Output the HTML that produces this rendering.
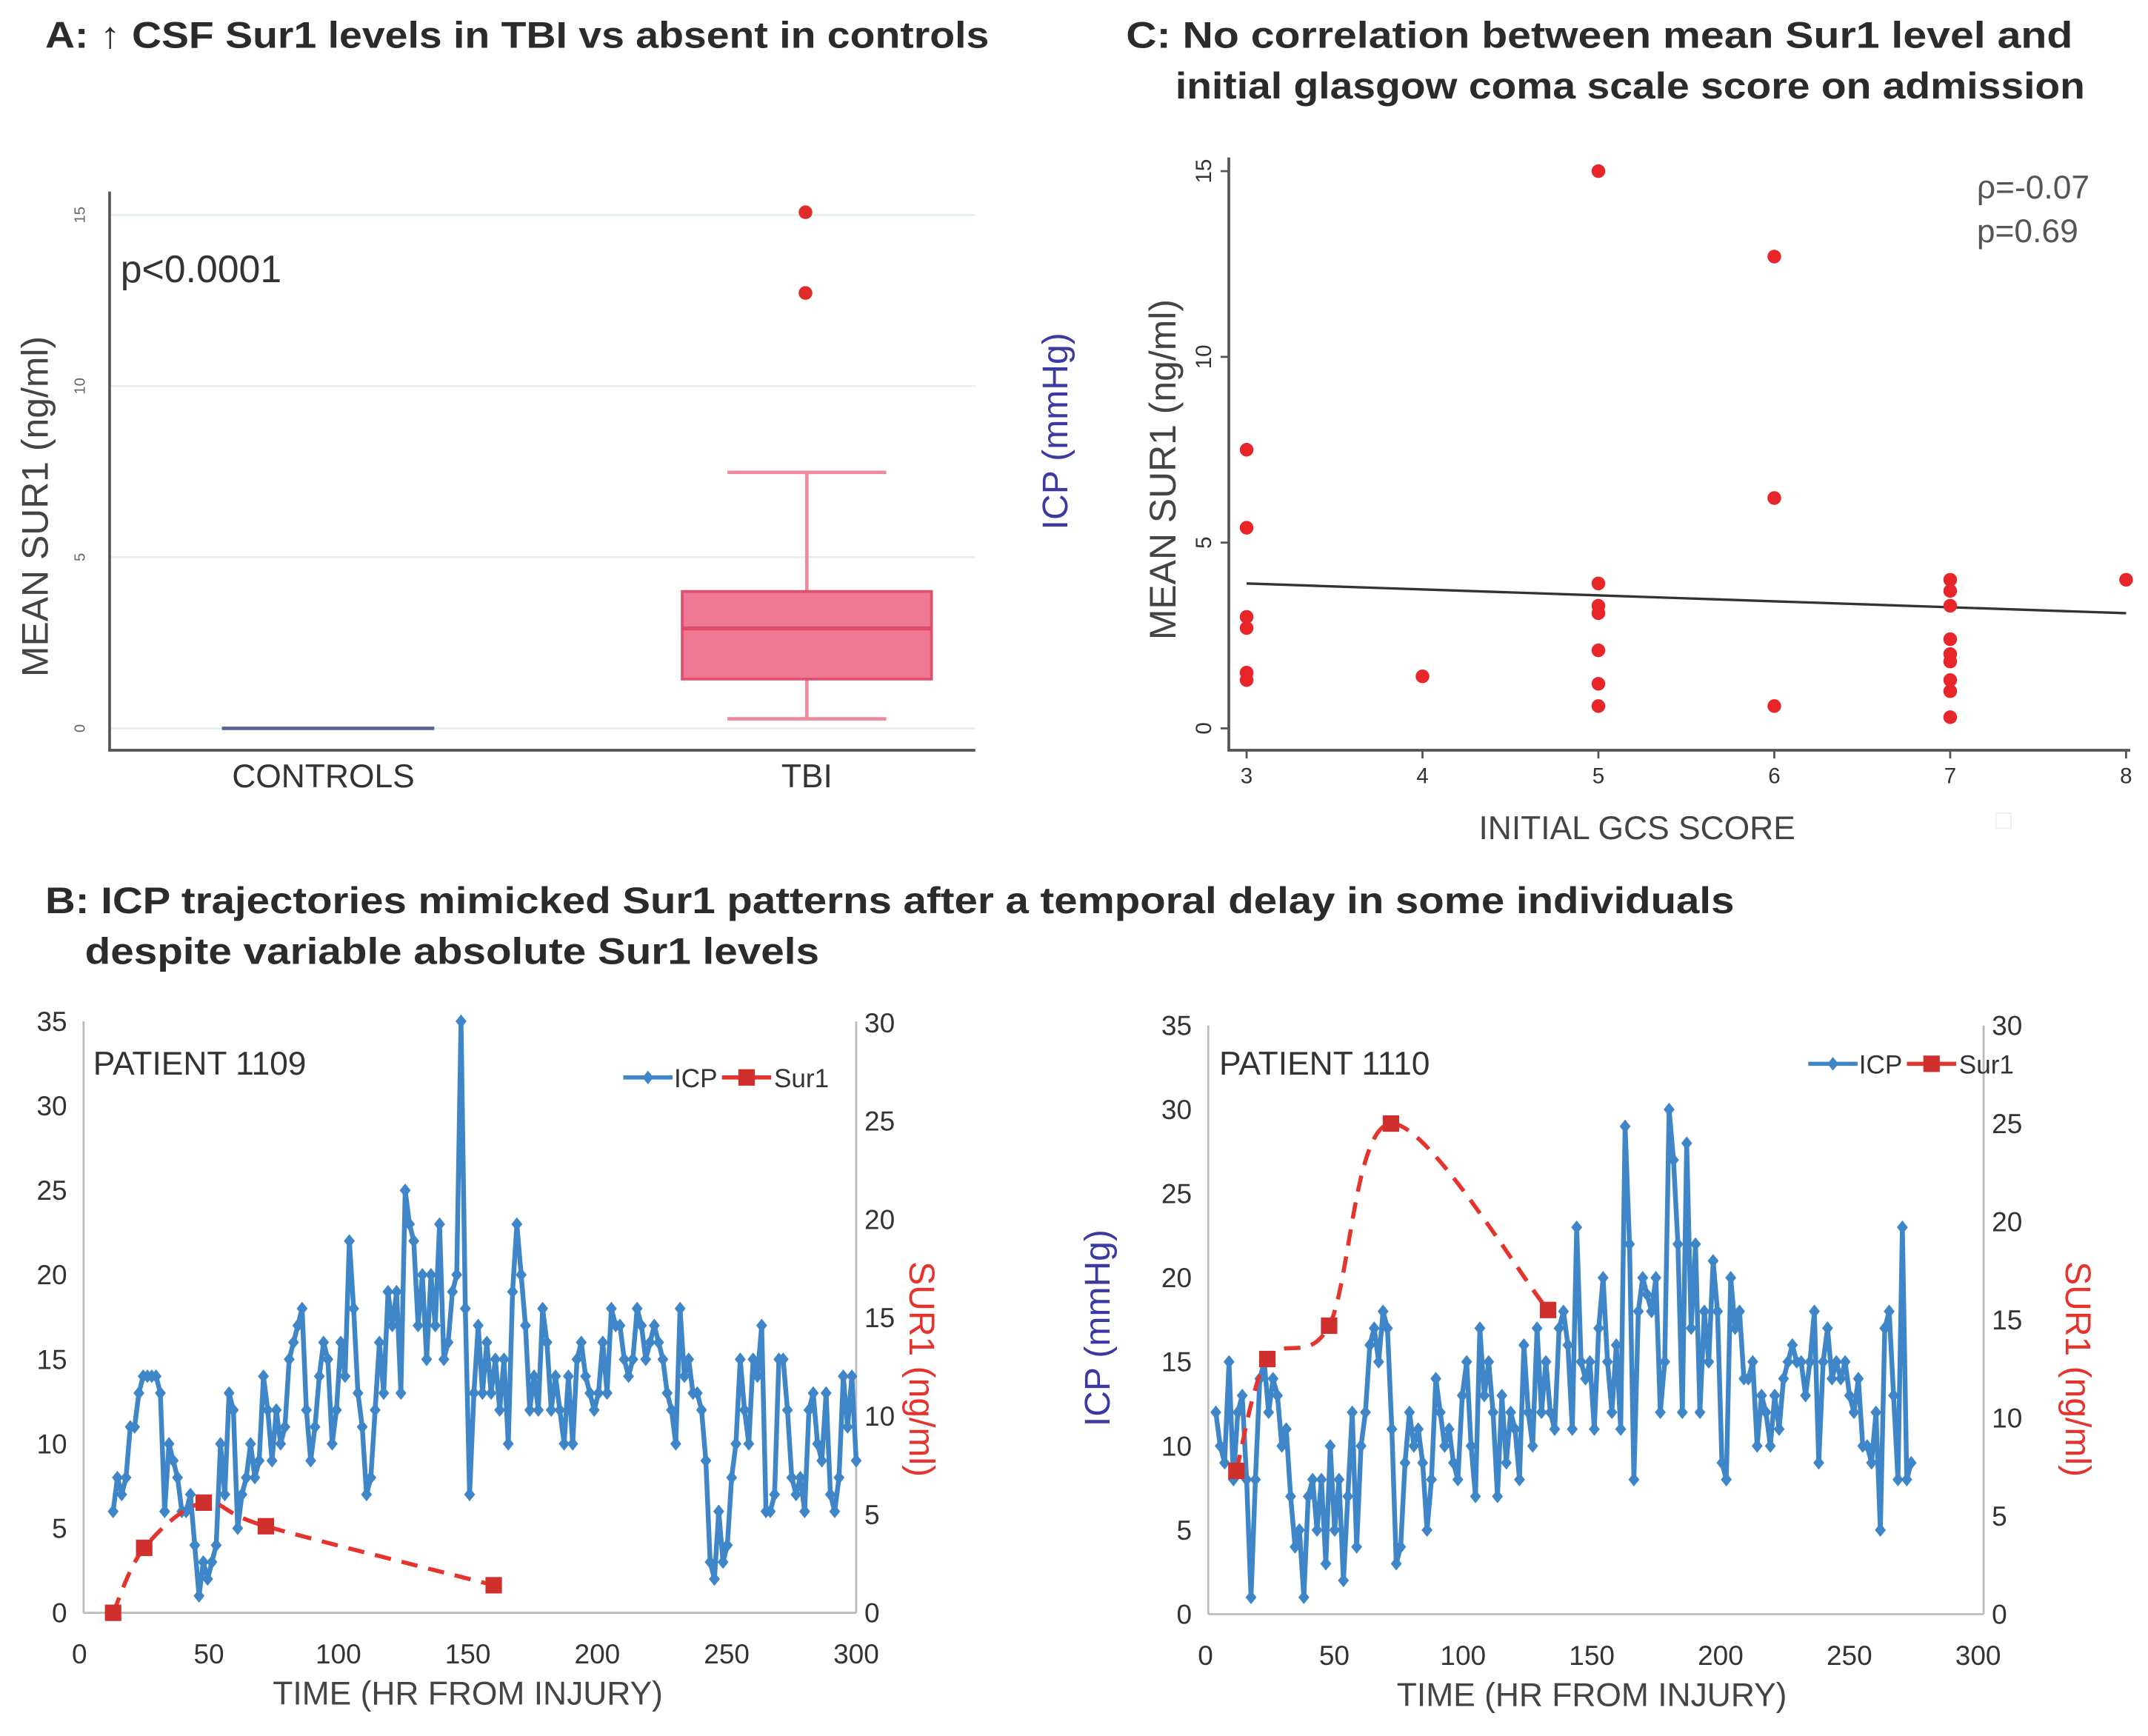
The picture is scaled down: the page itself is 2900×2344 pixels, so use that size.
<!DOCTYPE html>
<html><head><meta charset="utf-8"><style>
html,body{margin:0;padding:0;background:#fff}
svg{display:block}
text{font-family:"Liberation Sans",sans-serif}
.t{font-weight:bold;font-size:27px;fill:#2b2b2b}
</style></head><body>
<svg id="fig" width="2900" height="2344" viewBox="0 0 1568 1268" preserveAspectRatio="none" xmlns="http://www.w3.org/2000/svg">
<rect width="1568" height="1268" fill="#fff"/>
<text class="t" x="33" y="35" textLength="689" lengthAdjust="spacingAndGlyphs">A: ↑ CSF Sur1 levels in TBI vs absent in controls</text>
<text class="t" x="822" y="35" textLength="691" lengthAdjust="spacingAndGlyphs">C: No correlation between mean Sur1 level and</text>
<text class="t" x="858" y="72" textLength="664" lengthAdjust="spacingAndGlyphs">initial glasgow coma scale score on admission</text>
<text class="t" x="33" y="667" textLength="1233" lengthAdjust="spacingAndGlyphs">B: ICP trajectories mimicked Sur1 patterns after a temporal delay in some individuals</text>
<text class="t" x="62" y="704" textLength="536" lengthAdjust="spacingAndGlyphs">despite variable absolute Sur1 levels</text>
<g id="A"></g><g id="C"></g><g id="B1"></g><g id="B2"></g>
</svg>
<script>
// Panel A data
const boxCategories=["CONTROLS","TBI"];
const tbiBox=[0.28,1.44,2.92,4.0,7.48]; // low whisker, q1, median, q3, high whisker
const tbiOutliers=[15.08,12.72];
const controlsValue=[0];
const aTicks=[0,5,10,15];
// Panel C data
const gcsX=[3,3,3,3,3,3,4,5,5,5,5,5,5,5,6,6,6,7,7,7,7,7,7,7,7,7,8];
const meanSur1=[7.5,5.4,3.0,2.7,1.5,1.3,1.4,15.0,3.9,3.3,3.1,2.1,1.2,0.6,12.7,6.2,0.6,4.0,3.7,3.3,2.4,2.0,1.8,1.3,1.0,0.3,4.0];
const fitLine=[3.9,3.1]; // fit value at gcs 3 and 8
const cXTicks=[3,4,5,6,7,8];
const cYTicks=[0,5,10,15];
// Panel B data
const icp1109=[6,8,7,8,11,11,13,14,14,14,14,13,6,10,9,8,6,6,7,4,1,3,2,3,4,10,7,13,12,5,7,8,10,8,9,14,12,9,12,10,11,15,16,17,18,12,9,11,14,16,15,10,12,16,14,22,18,13,11,7,8,12,16,13,19,17,19,13,25,23,22,17,20,15,20,17,23,15,16,19,20,35,18,7,13,17,13,16,13,15,12,15,10,19,23,20,17,12,14,12,18,16,12,14,12,10,14,10,15,16,14,13,12,13,16,13,18,17,17,15,14,15,18,17,15,16,17,16,15,13,12,10,18,14,15,13,13,12,9,3,2,6,3,4,8,10,15,12,10,15,14,17,6,6,7,15,15,12,8,7,8,6,12,13,10,9,13,7,6,8,14,11,14,9];
const icp1109Start=13, icp1109End=300;
const sur1109T=[13,25,48,72,160];
const sur1109V=[0,3.3,5.6,4.4,1.4];
const icp1110=[12,10,9,15,8,12,13,8,1,8,14,15,12,14,13,10,11,7,4,5,1,7,8,5,8,3,10,5,8,2,7,12,4,10,12,16,17,15,18,17,11,3,4,9,12,10,11,9,5,8,14,12,10,11,9,8,13,15,10,7,17,13,15,12,7,13,9,12,11,8,16,12,10,17,12,15,12,11,17,18,16,11,23,15,14,15,11,17,20,15,12,16,11,29,22,8,18,20,19,18,20,12,15,30,27,22,12,28,17,22,12,18,15,21,18,9,8,20,17,18,14,14,15,10,13,12,10,13,11,14,15,16,15,15,13,15,18,9,15,17,14,15,14,15,13,12,14,10,10,9,12,5,17,18,13,8,23,8,9];
const icp1110Start=4, icp1110End=274;
const sur1110T=[12,24,48,72,133];
const sur1110V=[7.3,13,14.7,25,15.5];
const bXTicks=[0,50,100,150,200,250,300];
const bLeftTicks=[0,5,10,15,20,25,30,35];
const bRightTicks=[0,5,10,15,20,25,30];

const NS="http://www.w3.org/2000/svg";
function mk(parent,tag,attrs,txt){const e=document.createElementNS(NS,tag);for(const k in attrs)e.setAttribute(k,attrs[k]);if(txt!==undefined)e.textContent=txt;parent.appendChild(e);return e;}

// ---------- Panel A ----------
(function(){
const g=document.getElementById('A');
const y=v=>532-v*(375/15);
const x0=80,x1=712;
aTicks.forEach(t=>{
 const l=mk(g,'line',{x1:x0,x2:x1,y1:y(t),y2:y(t),stroke:'#e6efef','stroke-width':1.5});
 
 
 const tx=mk(g,'text',{x:62,y:y(t),'font-size':11,fill:'#666','text-anchor':'middle',transform:`rotate(-90 62 ${y(t)})`},String(t));
 
 
});
let e=mk(g,'polyline',{points:`${x0},140 ${x0},548 ${x1},548`,fill:'none',stroke:'#555','stroke-width':2});

const cx=[236,589];
e=mk(g,'line',{x1:162,x2:317,y1:y(controlsValue[0]),y2:y(controlsValue[0]),stroke:'#5a5f9a','stroke-width':2.5});

const [lo,q1,md,q3,hi]=tbiBox;const bx=cx[1],hw=91;
e=mk(g,'line',{x1:bx,x2:bx,y1:y(hi),y2:y(q3),stroke:'#ee8a9c','stroke-width':2.5});
e=mk(g,'line',{x1:bx,x2:bx,y1:y(q1),y2:y(lo),stroke:'#ee8a9c','stroke-width':2.5});
e=mk(g,'line',{x1:bx-58,x2:bx+58,y1:y(hi),y2:y(hi),stroke:'#ee8a9c','stroke-width':2.5});
e=mk(g,'line',{x1:bx-58,x2:bx+58,y1:y(lo),y2:y(lo),stroke:'#ee8a9c','stroke-width':2.5});
e=mk(g,'rect',{x:bx-hw,y:y(q3),width:hw*2,height:y(q1)-y(q3),fill:'#ef7895',stroke:'#e0506c','stroke-width':2});
e=mk(g,'line',{x1:bx-hw,x2:bx+hw,y1:y(md),y2:y(md),stroke:'#dc4c66','stroke-width':3});
tbiOutliers.forEach(v=>{e=mk(g,'circle',{cx:bx-1,cy:y(v),r:5,fill:'#e02b2b'});});
boxCategories.forEach((c,i)=>{e=mk(g,'text',{x:cx[i],y:575,'font-size':24,fill:'#333','text-anchor':'middle'},c);});
e=mk(g,'text',{x:88,y:206,'font-size':28,fill:'#333'},'p<0.0001');
e=mk(g,'text',{x:0,y:0,'font-size':27,fill:'#444','text-anchor':'middle',transform:'translate(35 370) rotate(-90)'},'MEAN SUR1 (ng/ml)');
})();

// ---------- Panel C ----------
(function(){
const g=document.getElementById('C');
const x=v=>910+(v-3)*(642/5);
const y=v=>532-v*(407/15);
let e=mk(g,'polyline',{points:`897,115 897,548 1555,548`,fill:'none',stroke:'#555','stroke-width':2});

cYTicks.forEach(t=>{
 e=mk(g,'line',{x1:891,x2:897,y1:y(t),y2:y(t),stroke:'#555','stroke-width':1.5});
 e=mk(g,'text',{x:0,y:0,'font-size':16,fill:'#333','text-anchor':'middle',transform:`translate(884 ${y(t)}) rotate(-90)`},String(t));
});
cXTicks.forEach(t=>{
 e=mk(g,'line',{x1:x(t),x2:x(t),y1:548,y2:554,stroke:'#555','stroke-width':1.5});
 e=mk(g,'text',{x:x(t),y:572,'font-size':16,fill:'#333','text-anchor':'middle'},String(t));
});
e=mk(g,'line',{x1:x(3),x2:x(8),y1:y(fitLine[0]),y2:y(fitLine[1]),stroke:'#333','stroke-width':1.8});
gcsX.forEach((gx,i)=>{e=mk(g,'circle',{cx:x(gx),cy:y(meanSur1[i]),r:5,fill:'#e8262a'});});
e=mk(g,'text',{x:1195,y:613,'font-size':24,fill:'#444','text-anchor':'middle'},'INITIAL GCS SCORE');
e=mk(g,'text',{x:0,y:0,'font-size':27,fill:'#444','text-anchor':'middle',transform:'translate(858 343) rotate(-90)'},'MEAN SUR1 (ng/ml)');
e=mk(g,'text',{x:0,y:0,'font-size':26,fill:'#3a3aa0','text-anchor':'middle',transform:'translate(779 315) rotate(-90)'},'ICP (mmHg)');
e=mk(g,'text',{x:1443,y:145,'font-size':24,fill:'#555'},'ρ=-0.07');
e=mk(g,'text',{x:1443,y:177,'font-size':24,fill:'#555'},'p=0.69');
e=mk(g,'rect',{x:1457,y:594,width:11,height:11,fill:'none',stroke:'#eee'});
})();

// ---------- Panel B ----------
function smoothPath(pts){
 let d=`M${pts[0][0]},${pts[0][1]}`;
 for(let i=0;i<pts.length-1;i++){
  const p0=pts[i-1]||pts[i],p1=pts[i],p2=pts[i+1],p3=pts[i+2]||p2;
  const c1=[p1[0]+(p2[0]-p0[0])/6,p1[1]+(p2[1]-p0[1])/6],c2=[p2[0]-(p3[0]-p1[0])/6,p2[1]-(p3[1]-p1[1])/6];
  d+=` C${c1[0]},${c1[1]} ${c2[0]},${c2[1]} ${p2[0]},${p2[1]}`;
 }
 return d;
}
function drawB(id,o){
 const g=document.getElementById(id);
 const x=v=>o.x0+v*(o.x300-o.x0)/300;
 const yl=v=>o.y0+v*(o.y35-o.y0)/35;
 const yr=v=>o.y0+v*(o.y30r-o.y0)/30;
 let e=mk(g,'line',{x1:o.ax,x2:o.ax,y1:o.y35,y2:o.y0,stroke:'#bbb','stroke-width':1.5});
 e=mk(g,'line',{x1:o.rx,x2:o.rx,y1:o.y35,y2:o.y0,stroke:'#bbb','stroke-width':1.5});
 e=mk(g,'line',{x1:o.ax,x2:o.rx,y1:o.y0,y2:o.y0,stroke:'#bbb','stroke-width':1.5});
 bLeftTicks.forEach(t=>{e=mk(g,'text',{x:o.ax-12,y:yl(t)+7,'font-size':20,fill:'#333','text-anchor':'end'},String(t));});
 bRightTicks.forEach(t=>{e=mk(g,'text',{x:o.rx+6,y:yr(t)+7,'font-size':20,fill:'#333'},String(t));});
 bXTicks.forEach(t=>{e=mk(g,'text',{x:x(t),y:o.y0+37,'font-size':20,fill:'#333','text-anchor':'middle'},String(t));});
 // ICP series
 const n=o.icp.length,step=(o.tEnd-o.tStart)/(n-1);
 const pts=o.icp.map((v,i)=>[x(o.tStart+i*step),yl(v)]);
 e=mk(g,'polyline',{points:pts.map(p=>p.join(',')).join(' '),fill:'none',stroke:'#3e86c8','stroke-width':3.5,'stroke-linejoin':'round'});
 
 pts.forEach(p=>{e=mk(g,'path',{d:`M${p[0]},${p[1]-5}l4,5l-4,5l-4,-5z`,fill:'#3e86c8'});});
 // Sur1 series
 const sp=o.st.map((t,i)=>[x(t),yr(o.sv[i])]);
 e=mk(g,'path',{d:smoothPath(sp),fill:'none',stroke:'#e5332e','stroke-width':3,'stroke-dasharray':'12 8'});
 
 sp.forEach(p=>{e=mk(g,'rect',{x:p[0]-6,y:p[1]-6,width:12,height:12,fill:'#d0302d'});});
 e=mk(g,'text',{x:o.px,y:785,'font-size':24,fill:'#333'},o.title);
 const lx=o.lx,ly=o.ly;
 e=mk(g,'line',{x1:lx,x2:lx+36,y1:ly,y2:ly,stroke:'#3e86c8','stroke-width':3});
 e=mk(g,'path',{d:`M${lx+18},${ly-5}l4,5l-4,5l-4,-5z`,fill:'#3e86c8'});
 e=mk(g,'text',{x:lx+37,y:ly+7,'font-size':19,fill:'#333'},'ICP');
 e=mk(g,'line',{x1:lx+72,x2:lx+108,y1:ly,y2:ly,stroke:'#e5332e','stroke-width':3});
 e=mk(g,'rect',{x:lx+84,y:ly-6,width:12,height:12,fill:'#d0302d'});
 e=mk(g,'text',{x:lx+110,y:ly+7,'font-size':19,fill:'#333'},'Sur1');
 e=mk(g,'text',{x:(o.x0+o.x300)/2,y:o.y0+67,'font-size':24,fill:'#444','text-anchor':'middle'},'TIME (HR FROM INJURY)');
 e=mk(g,'text',{x:0,y:0,'font-size':26,fill:'#e5332e','text-anchor':'middle',transform:`translate(${o.sx} 1000) rotate(90)`},'SUR1 (ng/ml)');
 if(o.icpTitle){e=mk(g,'text',{x:0,y:0,'font-size':26,fill:'#3a3aa0','text-anchor':'middle',transform:`translate(810 970) rotate(-90)`},'ICP (mmHg)');}
}
drawB('B1',{x0:58,x300:625,y0:1178,y35:746,y30r:747,ax:61,rx:625,icp:icp1109,tStart:icp1109Start,tEnd:icp1109End,st:sur1109T,sv:sur1109V,title:'PATIENT 1109',px:68,lx:455,ly:787,sx:664,icpTitle:false});
drawB('B2',{x0:880,x300:1444,y0:1179,y35:749,y30r:749,ax:882,rx:1448,icp:icp1110,tStart:icp1110Start,tEnd:icp1110End,st:sur1110T,sv:sur1110V,title:'PATIENT 1110',px:890,lx:1320,ly:777,sx:1508,icpTitle:true});
</script>
</body></html>
